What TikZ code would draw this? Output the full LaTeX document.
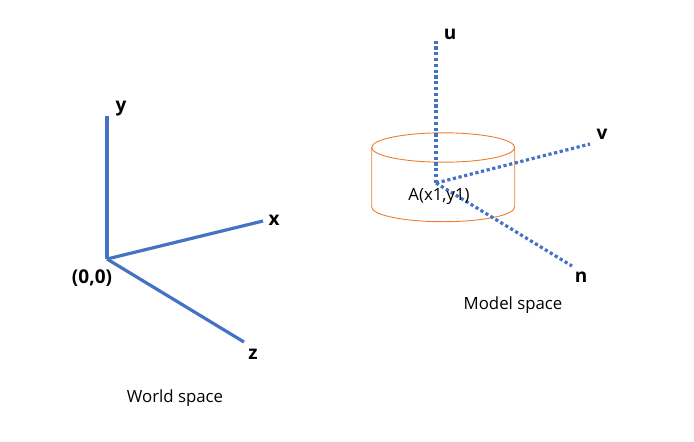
\documentclass[tikz,border=0pt]{standalone}
\usepackage{fontspec}
\setmainfont{Open Sans}
\definecolor{axisblue}{RGB}{68,114,196}
\definecolor{cylorange}{RGB}{237,125,49}
\tikzset{
  axisline/.style={axisblue, line width=3.2pt},
  modelline/.style={axisblue, line width=3.2pt, dash pattern=on 3.2pt off 2.6pt},
  cylline/.style={cylorange, line width=0.9pt},
  axislabel/.style={font=\fontsize{19}{22}\selectfont\bfseries, text=black, inner sep=0pt},
  caption/.style={font=\fontsize{16.8}{19}\selectfont, text=black, inner sep=0pt}
}

\begin{document}
\begin{tikzpicture}[x=1pt, y=-1pt]
        \useasboundingbox (0,0) rectangle (694,442);

        % World space
        \coordinate (o) at (107,259);
        \node[axislabel] (y) at (121,109) {y};
        \node[axislabel] (x) at (274,220.5) {x};
        \node[axislabel] (z) at (253,354) {z};
        \node[axislabel] (zero) at (92,278) {(0,0)};
        \node[caption] (world) at (175,398) {World space};

        \coordinate (yend) at (107,116);
        \coordinate (xend) at (263,221);
        \coordinate (zend) at (244,342);
        \draw[axisline] (o) -- (yend);
        \draw[axisline] (o) -- (xend);
        \draw[axisline] (o) -- (zend);

        % Cylindre
        \def\xl{371.7}
        \def\xr{514.7}
        \def\xm{443.2}
        \draw[cylline] (\xm,147.5) ellipse (71.5 and 14.7);
        \draw[cylline] (\xl,147.5) -- (\xl,207) arc[start angle=180, end angle=0, x radius=71.5, y radius=14.7] -- (\xr,147.5);

        % Model space
        \coordinate (a) at (436,183);
        \coordinate (uend) at (436,40);
        \coordinate (vend) at (590,144);
        \coordinate (nend) at (572,266);
        \draw[modelline] (a) -- (uend);
        \draw[modelline] (a) -- (vend);
        \draw[modelline] (a) -- (nend);

        \node[axislabel] (u) at (450,34.5) {u};
        \node[axislabel] (v) at (602,134.5) {v};
        \node[axislabel] (n) at (581,277) {n};
        \node[caption] (pointa) at (439,196.5) {A(x1,y1)};
        \node[caption] (model) at (513,305) {Model space};
    \end{tikzpicture}
\end{document}
